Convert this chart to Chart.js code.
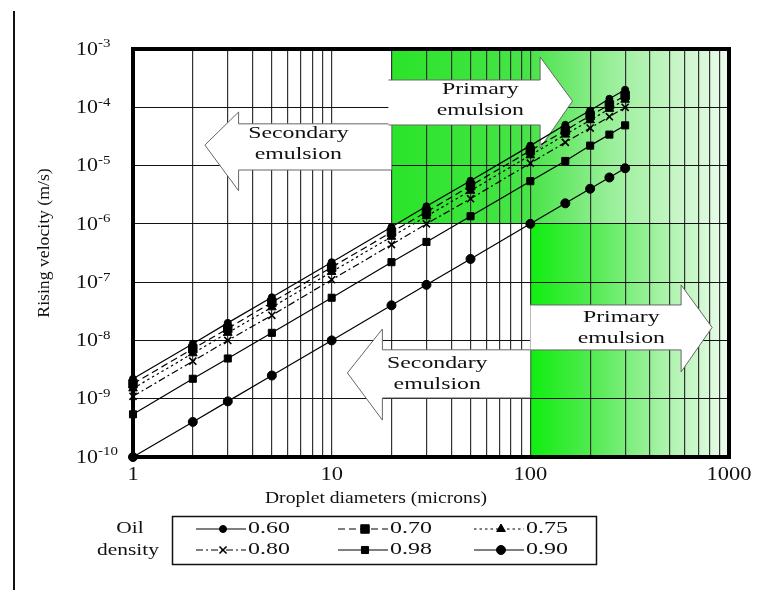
<!DOCTYPE html>
<html lang="en">
<head>
<meta charset="utf-8">
<title>Rising velocity vs droplet diameter</title>
<script src="https://cdn.jsdelivr.net/npm/chart.js@4.4.1/dist/chart.umd.min.js"></script>
<style>
  html, body { margin: 0; padding: 0; background: #fff; }
  #lienzo { display: block; }
</style>
</head>
<body>
<canvas id="lienzo" width="776" height="590"></canvas>
<script>
// ── Datos ─────────────────────────────────────────────────────
const diametros = [1, 2, 3, 5, 10, 20, 30, 50, 100, 150, 200, 250, 300];
const densidades = ['0.60', '0.70', '0.75', '0.80', '0.98', '0.90'];

const vel060 = [2.2e-9, 8.8e-9, 2.0e-8, 5.5e-8, 2.2e-7, 8.8e-7, 2.0e-6, 5.5e-6, 2.2e-5, 5.0e-5, 8.8e-5, 1.4e-4, 2.0e-4];
const vel070 = [1.8e-9, 7.2e-9, 1.6e-8, 4.5e-8, 1.8e-7, 7.2e-7, 1.6e-6, 4.5e-6, 1.8e-5, 4.0e-5, 7.2e-5, 1.1e-4, 1.6e-4];
const vel075 = [1.5e-9, 6.0e-9, 1.35e-8, 3.7e-8, 1.5e-7, 6.0e-7, 1.35e-6, 3.7e-6, 1.5e-5, 3.4e-5, 6.0e-5, 9.4e-5, 1.35e-4];
const vel080 = [1.1e-9, 4.4e-9, 1.0e-8, 2.7e-8, 1.1e-7, 4.4e-7, 1.0e-6, 2.7e-6, 1.1e-5, 2.5e-5, 4.4e-5, 6.9e-5, 1.0e-4];
const vel098 = [5.4e-10, 2.2e-9, 4.9e-9, 1.35e-8, 5.4e-8, 2.2e-7, 4.9e-7, 1.35e-6, 5.4e-6, 1.2e-5, 2.2e-5, 3.4e-5, 4.9e-5];
const vel090 = [1.0e-10, 4.0e-10, 9.0e-10, 2.5e-9, 1.0e-8, 4.0e-8, 9.0e-8, 2.5e-7, 1.0e-6, 2.25e-6, 4.0e-6, 6.25e-6, 9.0e-6];

const ticksX      = [1, 10, 100, 1000];
const exponentesY = [-3, -4, -5, -6, -7, -8, -9, -10];

const tituloX       = 'Droplet diameters (microns)';
const tituloY       = 'Rising velocity (m/s)';
const tituloLeyenda = ['Oil', 'density'];

// Zonas verdes (emulsión primaria), en coordenadas de datos
const zonasVerdes = [
    { x0: 20,  x1: 1000, y0: 1e-6,  y1: 1e-3,
      paradas: [[20, '#2ae42a'], [100, '#48e448'], [250, '#98ef98'], [1000, '#ecfbec']] },
    { x0: 100, x1: 1000, y0: 1e-10, y1: 1e-6,
      paradas: [[100, '#10ee10'], [200, '#50ea50'], [450, '#a4f2a4'], [1000, '#effcef']] },
];

// Flechas: punta, base de la cabeza, fin del cuerpo (x); cuerpo y cabeza (y)
const flechas = [
    { lineas: ['Secondary', 'emulsion'], punta: [2.3, 2.25e-5], base: 3.4, fin: 20,
      cuerpo: [5.2e-5, 8.4e-6], cabeza: [8.3e-5, 3.7e-6], textoX: 6.8, textoY: 2.3e-5 },
    { lineas: ['Primary', 'emulsion'], punta: [163, 1.28e-4], base: 112, fin: 19.3,
      cuerpo: [2.94e-4, 4.97e-5], cabeza: [7.3e-4, 2.0e-5], textoX: 56, textoY: 1.31e-4 },
    { lineas: ['Primary', 'emulsion'], punta: [822, 1.67e-8], base: 574, fin: 100,
      cuerpo: [4.06e-8, 6.87e-9], cabeza: [8.95e-8, 2.88e-9], textoX: 287, textoY: 1.6e-8 },
    { lineas: ['Secondary', 'emulsion'], punta: [12, 2.77e-9], base: 18, fin: 100,
      cuerpo: [6.9e-9, 1.03e-9], cabeza: [1.57e-8, 4.3e-10], textoX: 34, textoY: 2.66e-9 },
];

// ── Estilos de serie ──────────────────────────────────────────
const estilos = [
    { dash: [],            punto: 'circle',   radio: 3.5 },
    { dash: [7, 4],        punto: 'rect',     radio: 6 },
    { dash: [2.5, 3],      punto: 'triangle', radio: 5 },
    { dash: [7, 3, 2, 3],  punto: 'crossRot', radio: 5 },
    { dash: [],            punto: 'rect',     radio: 5 },
    { dash: [],            punto: 'circle',   radio: 4.5 },
];
const valores = [vel060, vel070, vel075, vel080, vel098, vel090];

const datasets = densidades.map((etiqueta, i) => ({
    label: etiqueta,
    data: diametros.map((d, j) => ({ x: d, y: valores[i][j] })),
    showLine: true,
    borderColor: '#000',
    borderWidth: 1.2,
    borderDash: estilos[i].dash,
    pointStyle: estilos[i].punto,
    pointRadius: estilos[i].radio,
    pointBackgroundColor: '#000',
    pointBorderColor: '#000',
    pointBorderWidth: estilos[i].punto === 'crossRot' ? 1.6 : 1,
    clip: false,
}));

// Líneas de rejilla verticales: 1..9 por cada década
const lineasX = [];
[1, 10, 100].forEach(dec => { for (let k = 1; k <= 9; k++) lineasX.push(k * dec); });
lineasX.push(1000);

// ── Utilidades de dibujo ──────────────────────────────────────
const FUENTE = '"Liberation Serif", "Times New Roman", serif';

function texto(ctx, str, x, y, size, align, sx = 1) {
    ctx.save();
    ctx.translate(x, y);
    ctx.scale(sx, 1);
    ctx.font = `${size}px ${FUENTE}`;
    ctx.textAlign = align;
    ctx.textBaseline = 'middle';
    ctx.fillStyle = '#111';
    ctx.fillText(str, 0, 0);
    ctx.restore();
}

// ── Plugins ───────────────────────────────────────────────────
const fondoVerde = {
    id: 'fondoVerde',
    beforeDraw(chart) {
        const { ctx, scales: { x, y } } = chart;
        zonasVerdes.forEach(z => {
            const px0 = x.getPixelForValue(z.x0), px1 = x.getPixelForValue(z.x1);
            const py0 = y.getPixelForValue(z.y0), py1 = y.getPixelForValue(z.y1);
            const grad = ctx.createLinearGradient(px0, 0, px1, 0);
            z.paradas.forEach(([v, c]) => {
                const f = (x.getPixelForValue(v) - px0) / (px1 - px0);
                grad.addColorStop(Math.min(1, Math.max(0, f)), c);
            });
            ctx.fillStyle = grad;
            ctx.fillRect(px0, py1, px1 - px0, py0 - py1);
        });
    }
};

const flechasPlugin = {
    id: 'flechas',
    beforeDatasetsDraw(chart) {
        const { ctx, scales: { x, y } } = chart;
        flechas.forEach(f => {
            const xp = x.getPixelForValue(f.punta[0]), yp = y.getPixelForValue(f.punta[1]);
            const xb = x.getPixelForValue(f.base), xf = x.getPixelForValue(f.fin);
            const yc1 = y.getPixelForValue(f.cuerpo[0]), yc2 = y.getPixelForValue(f.cuerpo[1]);
            const yh1 = y.getPixelForValue(f.cabeza[0]), yh2 = y.getPixelForValue(f.cabeza[1]);
            ctx.save();
            ctx.beginPath();
            ctx.moveTo(xf, yc1);
            ctx.lineTo(xb, yc1);
            ctx.lineTo(xb, yh1);
            ctx.lineTo(xp, yp);
            ctx.lineTo(xb, yh2);
            ctx.lineTo(xb, yc2);
            ctx.lineTo(xf, yc2);
            ctx.fillStyle = '#fff';
            ctx.fill();
            ctx.strokeStyle = '#666';
            ctx.lineWidth = 1;
            ctx.stroke();
            ctx.restore();

            const tx = x.getPixelForValue(f.textoX), ty = y.getPixelForValue(f.textoY);
            texto(ctx, f.lineas[0], tx, ty - 11, 17.5, 'center', 1.36);
            texto(ctx, f.lineas[1], tx, ty + 10, 17.5, 'center', 1.36);
        });
    }
};

function dibujarMarcador(ctx, ds, cx, cy) {
    if (Chart.helpers && Chart.helpers.drawPoint) {
        ctx.fillStyle = '#000';
        ctx.strokeStyle = '#000';
        ctx.lineWidth = ds.pointBorderWidth;
        Chart.helpers.drawPoint(ctx, { pointStyle: ds.pointStyle, radius: ds.pointRadius, rotation: 0, borderWidth: ds.pointBorderWidth }, cx, cy);
    }
}

const marcoYTextos = {
    id: 'marcoYTextos',
    afterDraw(chart) {
        const { ctx, chartArea: a, scales: { x, y } } = chart;

        // Marco grueso
        ctx.save();
        ctx.strokeStyle = '#000';
        ctx.lineWidth = 4;
        ctx.strokeRect(a.left, a.top, a.right - a.left, a.bottom - a.top);
        ctx.restore();

        // Línea vertical de la página
        ctx.fillStyle = '#111';
        ctx.fillRect(13, 11, 2, 579);

        // Etiquetas eje X
        ticksX.forEach(v => texto(ctx, String(v), x.getPixelForValue(v), a.bottom + 18, 18, 'center', 1.25));

        // Etiquetas eje Y con superíndice
        exponentesY.forEach(e => {
            const py = y.getPixelForValue(Math.pow(10, e));
            texto(ctx, '10', 98, py + 1, 18, 'right', 1.22);
            texto(ctx, String(e), 98, py - 5, 13, 'left', 1.15);
        });

        // Títulos de ejes
        texto(ctx, tituloX, (a.left + a.right) / 2 - 55, a.bottom + 41, 17.5, 'center', 1.12);
        ctx.save();
        ctx.translate(45, 243);
        ctx.rotate(-Math.PI / 2);
        texto(ctx, tituloY, 0, 0, 17, 'center', 1.04);
        ctx.restore();

        // Leyenda
        ctx.save();
        ctx.strokeStyle = '#111';
        ctx.lineWidth = 1.5;
        ctx.strokeRect(172.5, 516.5, 424, 48);
        ctx.restore();
        texto(ctx, tituloLeyenda[0], 130, 529, 16.5, 'center', 1.3);
        texto(ctx, tituloLeyenda[1], 128, 551, 16.5, 'center', 1.3);

        const columnas = [196, 338, 474];
        const filas = [529, 550];
        chart.data.datasets.forEach((ds, i) => {
            const cx = columnas[i % 3], cy = filas[Math.floor(i / 3)];
            ctx.save();
            ctx.strokeStyle = '#000';
            ctx.lineWidth = 1.2;
            ctx.setLineDash(ds.borderDash);
            ctx.beginPath();
            ctx.moveTo(cx, cy);
            ctx.lineTo(cx + 50, cy);
            ctx.stroke();
            ctx.setLineDash([]);
            dibujarMarcador(ctx, ds, cx + 27, cy);
            ctx.restore();
            texto(ctx, ds.label, cx + 52, cy, 16.5, 'left', 1.45);
        });
    }
};

// ── Gráfica ───────────────────────────────────────────────────
new Chart(document.getElementById('lienzo'), {
    type: 'scatter',
    data: { datasets },
    options: {
        responsive: false,
        animation: false,
        devicePixelRatio: 1,
        layout: { padding: { left: 133, top: 49, right: 47, bottom: 133 } },
        plugins: { legend: { display: false }, tooltip: { enabled: false } },
        scales: {
            x: {
                type: 'logarithmic', min: 1, max: 1000,
                afterBuildTicks: s => { s.ticks = lineasX.map(v => ({ value: v })); },
                ticks: { display: false },
                grid: { color: '#333', lineWidth: 1.2, drawTicks: false },
                border: { display: false },
            },
            y: {
                type: 'logarithmic', min: 1e-10, max: 1e-3,
                afterBuildTicks: s => { s.ticks = exponentesY.map(e => ({ value: Math.pow(10, e) })); },
                ticks: { display: false },
                grid: { color: '#111', lineWidth: 1, drawTicks: false },
                border: { display: false },
            },
        },
    },
    plugins: [fondoVerde, flechasPlugin, marcoYTextos],
});
</script>
</body>
</html>
